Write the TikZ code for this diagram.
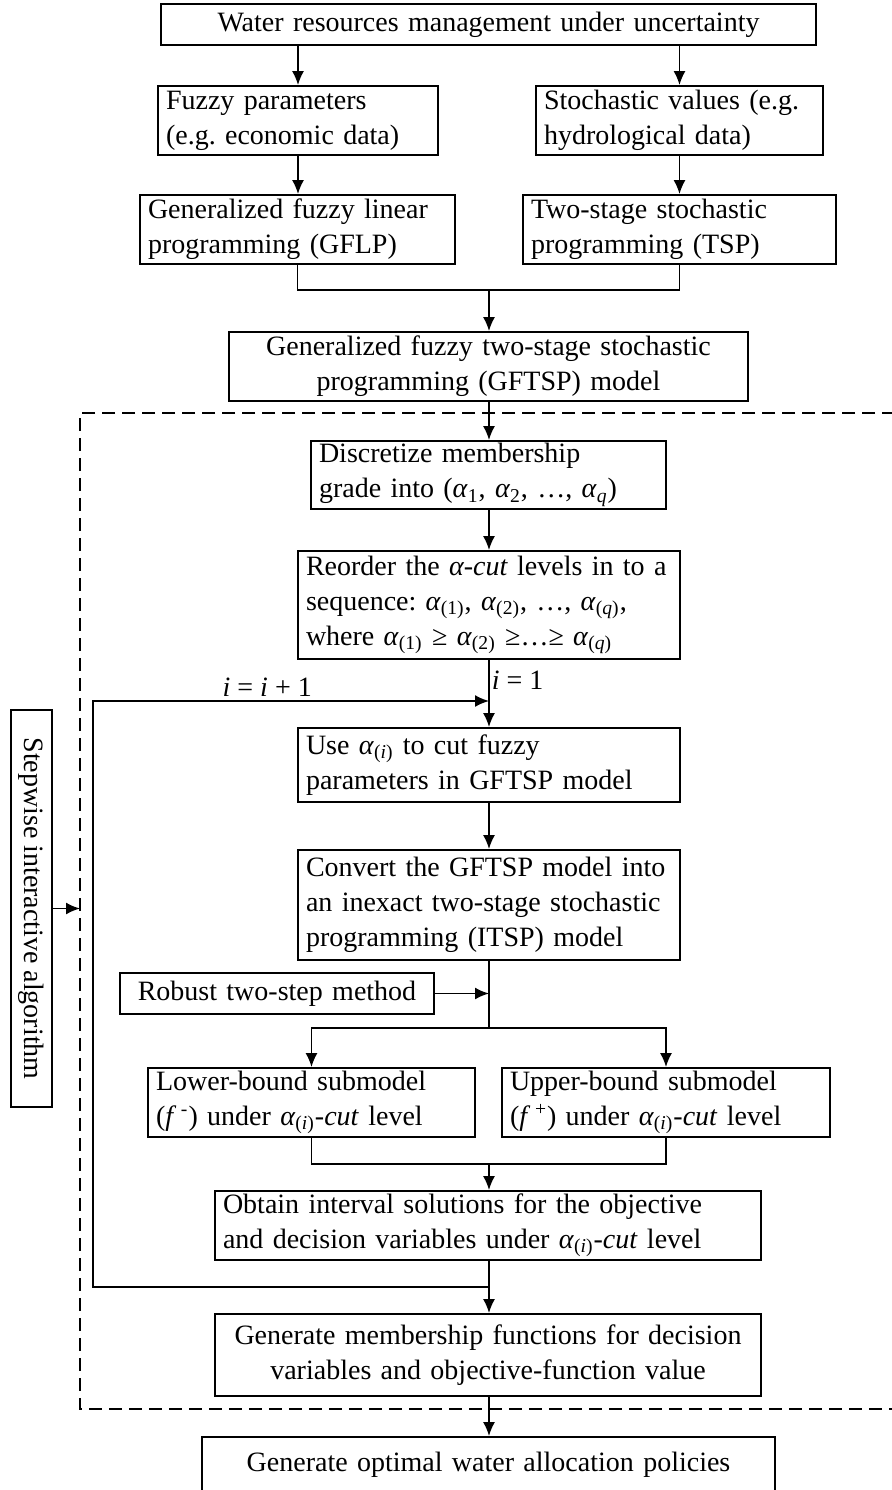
\documentclass[tikz,border=0pt]{standalone}
\usepackage{fontspec}
\setmainfont{Liberation Serif}
\usetikzlibrary{arrows.meta}
\newcommand{\alp}[1]{\textit{α}\textsubscript{#1}}
\newcommand{\boxfont}{\fontsize{14}{17.5}\selectfont\frenchspacing\hyphenpenalty=10000\exhyphenpenalty=10000}

\begin{document}
\begin{tikzpicture}[x=0.5pt, y=-0.5pt,
  box/.style={draw, line width=0.9pt, inner xsep=4pt, inner ysep=1pt, font=\boxfont},
  lbox/.style={box, align=left, text width=#1},
  cbox/.style={box, align=center, text width=#1},
  arr/.style={-{Latex[length=7pt, width=6pt]}, line width=0.9pt},
  lne/.style={line width=0.9pt},
  lbl/.style={font=\boxfont, inner sep=1pt}]
  \useasboundingbox (0,0) rectangle (891,1490);
  \draw[line width=0.9pt, dash pattern=on 6.5pt off 3.5pt] (895,413) -- (80,413) -- (80,1409) -- (895,1409);

  \node[cbox=319.5pt, minimum height=20.5pt] (top) at (488.5,24.5) {Water resources management under uncertainty};
  \node[lbox=132pt, minimum height=34.5pt] (fuzzy) at (298,120.5) {Fuzzy parameters\\(e.g. economic data)};
  \node[lbox=135.5pt, minimum height=34.5pt] (stoch) at (679.5,120.5) {Stochastic values (e.g.\\hydrological data)};
  \node[lbox=149.5pt, minimum height=34.5pt] (gflp) at (297.5,229.5) {Generalized fuzzy linear\\programming (GFLP)};
  \node[lbox=148.5pt, minimum height=34.5pt] (tsp) at (679.5,229.5) {Two-stage stochastic\\programming (TSP)};
  \node[cbox=251.5pt, minimum height=34.5pt] (gftsp) at (488.5,366.5) {Generalized fuzzy two-stage stochastic\\programming (GFTSP) model};
  \node[lbox=169.5pt, minimum height=34pt] (disc) at (488.5,475) {Discretize membership\\grade into (\alp{1}, \alp{2}, …, \alp{\textit{q}})};
  \node[lbox=183pt, minimum height=54pt] (reorder) at (489,605) {Reorder the \textit{α-cut} levels in to a\\sequence: \alp{(1)}, \alp{(2)}, …, \alp{(\textit{q})},\\where \alp{(1)} ≥ \alp{(2)} ≥…≥ \alp{(\textit{q})}};
  \node[lbox=183pt, minimum height=37pt] (use) at (489,765) {Use \alp{(\textit{i})} to cut fuzzy\\parameters in GFTSP model};
  \node[lbox=183pt, minimum height=55pt] (convert) at (489,905) {Convert the GFTSP model into\\an inexact two-stage stochastic\\programming (ITSP) model};
  \node[cbox=149pt, minimum height=20.5pt] (robust) at (277,993.5) {Robust two-step method};
  \node[lbox=155.5pt, minimum height=34.5pt] (lower) at (311.5,1102.5) {Lower-bound submodel\\(\textit{f}\,\textsuperscript{-}) under \alp{(\textit{i})}-\textit{cut} level};
  \node[lbox=156pt, minimum height=34.5pt] (upper) at (666,1102.5) {Upper-bound submodel\\(\textit{f}\,\textsuperscript{+}) under \alp{(\textit{i})}-\textit{cut} level};
  \node[lbox=265pt, minimum height=34.5pt] (obtain) at (488,1225.5) {Obtain interval solutions for the objective\\and decision variables under \alp{(\textit{i})}-\textit{cut} level};
  \node[cbox=265pt, minimum height=41pt] (member) at (488,1355) {Generate membership functions for decision\\variables and objective-function value};
  \node[cbox=278.5pt, minimum height=28pt] (final) at (488.5,1465) {Generate optimal water allocation policies};
  \node[box, inner sep=0pt, minimum width=20.5pt, minimum height=198.5pt] (step) at (31.5,908.5) {\rotatebox{-90}{Stepwise interactive algorithm}};

  \coordinate (m1) at (489,290);
  \coordinate (sp) at (489,1028);
  \coordinate (m2) at (489,1164);
  \coordinate (j1) at (489,1287);
  \coordinate (lb) at (93,1287);
  \coordinate (lt) at (93,701);
  \coordinate (j2) at (489,701);
  \coordinate (dl) at (80,908.5);

  \draw[arr] (top.south -| fuzzy.north) -- (fuzzy.north);
  \draw[arr] (top.south -| stoch.north) -- (stoch.north);
  \draw[arr] (fuzzy.south) -- (fuzzy.south |- gflp.north);
  \draw[arr] (stoch.south) -- (stoch.south |- tsp.north);
  \draw[lne] (gflp.south) |- (m1) -| (tsp.south);
  \draw[arr] (m1) -- (m1 |- gftsp.north);
  \draw[arr] (gftsp.south -| m1) -- (disc.north -| m1);
  \draw[arr] (disc.south -| m1) -- (reorder.north -| m1);
  \draw[arr] (reorder.south -| m1) -- node[lbl, right, pos=0.3] (ione) {\textit{i} = 1} (use.north -| m1);
  \draw[arr] (j1) -- (lb) -- (lt) -- node[lbl, above=1pt, pos=0.44] (inext) {\textit{i} = \textit{i} + 1} (j2);
  \draw[arr] (use.south -| m1) -- (convert.north -| m1);
  \draw[lne] (convert.south -| m1) -- (sp);
  \draw[arr] (robust.east) -- (robust.east -| sp);
  \draw[arr] (sp) -| (lower.north);
  \draw[arr] (sp) -| (upper.north);
  \draw[lne] (lower.south) |- (m2) -| (upper.south);
  \draw[arr] (m2) -- (obtain.north -| m2);
  \draw[arr] (obtain.south -| m2) -- (member.north -| m2);
  \draw[arr] (member.south -| m2) -- (final.north -| m2);
  \draw[arr] (step.east) -- (dl);
\end{tikzpicture}
\end{document}
